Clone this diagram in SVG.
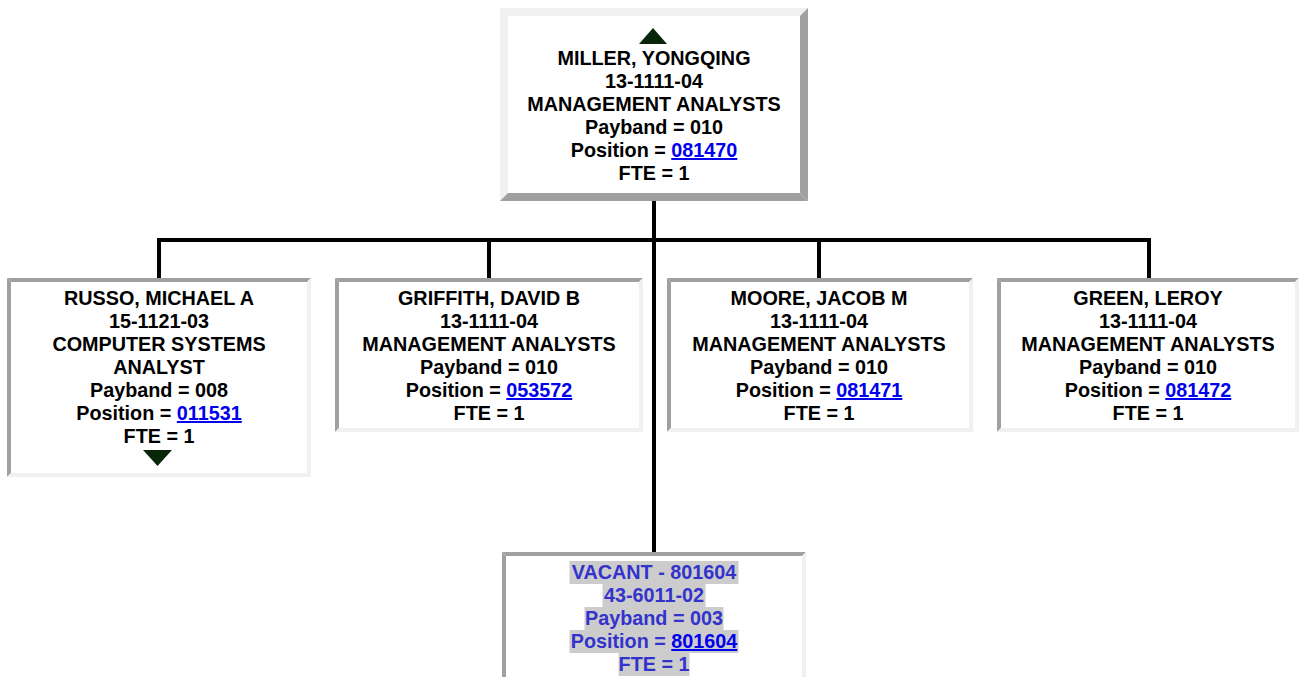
<svg xmlns="http://www.w3.org/2000/svg" width="1299" height="677" viewBox="0 0 1299 677">
<defs>
<style>
text{font-family:"Liberation Sans",Arial,sans-serif;font-weight:bold;font-size:19.8px;fill:#000;text-anchor:middle}
.lk{fill:#0000ee;text-decoration:underline}
.vac{fill:#3333cc}
.hl{fill:#cccccc}
.lt{fill:#f0f0f0}
.dk{fill:#a0a0a0}
.bg{fill:#ffffff}
.tri{fill:#0a260a}
.con{stroke:#000;stroke-width:4;fill:none;stroke-linecap:square}
</style>
</defs>
<rect width="1299" height="677" fill="#ffffff"/>
<g id="connectors">
<path class="con" d="M654,203 V552 M159,240 H1149 M159,240 V278 M489,240 V278 M819,240 V278 M1149,240 V278"/>
</g>
<g id="node-miller">
<rect class="bg" x="500" y="8" width="308" height="193"/>
<polygon class="lt" points="500,8 808,8 800,16 508,16"/>
<polygon class="lt" points="500,8 508,16 508,193 500,201"/>
<polygon class="dk" points="808,8 808,201 800,193 800,16"/>
<polygon class="dk" points="500,201 808,201 800,193 508,193"/>
<polygon class="tri" points="653,28 667,44 639,44"/>
<text x="654" y="65">MILLER, YONGQING</text>
<text x="654" y="88">13-1111-04</text>
<text x="654" y="111">MANAGEMENT ANALYSTS</text>
<text x="654" y="134">Payband = 010</text>
<text x="654" y="157">Position = <tspan class="lk">081470</tspan></text>
<text x="654" y="180">FTE = 1</text>
</g>
<g id="node-russo">
<rect class="bg" x="7" y="278" width="304" height="199"/>
<polygon class="dk" points="7,278 311,278 307,282 11,282"/>
<polygon class="dk" points="7,278 11,282 11,473 7,477"/>
<polygon class="lt" points="311,278 311,477 307,473 307,282"/>
<polygon class="lt" points="7,477 311,477 307,473 11,473"/>
<text x="159" y="305">RUSSO, MICHAEL A</text>
<text x="159" y="328">15-1121-03</text>
<text x="159" y="351">COMPUTER SYSTEMS</text>
<text x="159" y="374">ANALYST</text>
<text x="159" y="397">Payband = 008</text>
<text x="159" y="420">Position = <tspan class="lk">011531</tspan></text>
<text x="159" y="443">FTE = 1</text>
<polygon class="tri" points="143,450 172,450 157.5,466"/>
</g>
<g id="node-griffith">
<rect class="bg" x="335" y="278" width="308" height="154"/>
<polygon class="dk" points="335,278 643,278 639,282 339,282"/>
<polygon class="dk" points="335,278 339,282 339,428 335,432"/>
<polygon class="lt" points="643,278 643,432 639,428 639,282"/>
<polygon class="lt" points="335,432 643,432 639,428 339,428"/>
<text x="489" y="305">GRIFFITH, DAVID B</text>
<text x="489" y="328">13-1111-04</text>
<text x="489" y="351">MANAGEMENT ANALYSTS</text>
<text x="489" y="374">Payband = 010</text>
<text x="489" y="397">Position = <tspan class="lk">053572</tspan></text>
<text x="489" y="420">FTE = 1</text>
</g>
<g id="node-moore">
<rect class="bg" x="667" y="278" width="306" height="154"/>
<polygon class="dk" points="667,278 973,278 969,282 671,282"/>
<polygon class="dk" points="667,278 671,282 671,428 667,432"/>
<polygon class="lt" points="973,278 973,432 969,428 969,282"/>
<polygon class="lt" points="667,432 973,432 969,428 671,428"/>
<text x="819" y="305">MOORE, JACOB M</text>
<text x="819" y="328">13-1111-04</text>
<text x="819" y="351">MANAGEMENT ANALYSTS</text>
<text x="819" y="374">Payband = 010</text>
<text x="819" y="397">Position = <tspan class="lk">081471</tspan></text>
<text x="819" y="420">FTE = 1</text>
</g>
<g id="node-green">
<rect class="bg" x="997" y="278" width="302" height="154"/>
<polygon class="dk" points="997,278 1299,278 1295,282 1001,282"/>
<polygon class="dk" points="997,278 1001,282 1001,428 997,432"/>
<polygon class="lt" points="1299,278 1299,432 1295,428 1295,282"/>
<polygon class="lt" points="997,432 1299,432 1295,428 1001,428"/>
<text x="1148" y="305">GREEN, LEROY</text>
<text x="1148" y="328">13-1111-04</text>
<text x="1148" y="351">MANAGEMENT ANALYSTS</text>
<text x="1148" y="374">Payband = 010</text>
<text x="1148" y="397">Position = <tspan class="lk">081472</tspan></text>
<text x="1148" y="420">FTE = 1</text>
</g>
<g id="node-vacant">
<rect class="bg" x="502" y="552" width="304" height="130"/>
<polygon class="dk" points="502,552 806,552 802,556 506,556"/>
<polygon class="dk" points="502,552 506,556 506,682 502,682"/>
<polygon class="lt" points="806,552 806,682 802,682 802,556"/>
<rect class="hl" x="569.5" y="561" width="169" height="23"/>
<rect class="hl" x="602.5" y="584" width="103" height="23"/>
<rect class="hl" x="584.5" y="607" width="139" height="23"/>
<rect class="hl" x="569.5" y="630" width="169" height="23"/>
<rect class="hl" x="618.5" y="653" width="71" height="23"/>
<text class="vac" x="654" y="579">VACANT - 801604</text>
<text class="vac" x="654" y="602">43-6011-02</text>
<text class="vac" x="654" y="625">Payband = 003</text>
<text class="vac" x="654" y="648">Position = <tspan class="lk">801604</tspan></text>
<text class="vac" x="654" y="671">FTE = 1</text>
</g>
</svg>
